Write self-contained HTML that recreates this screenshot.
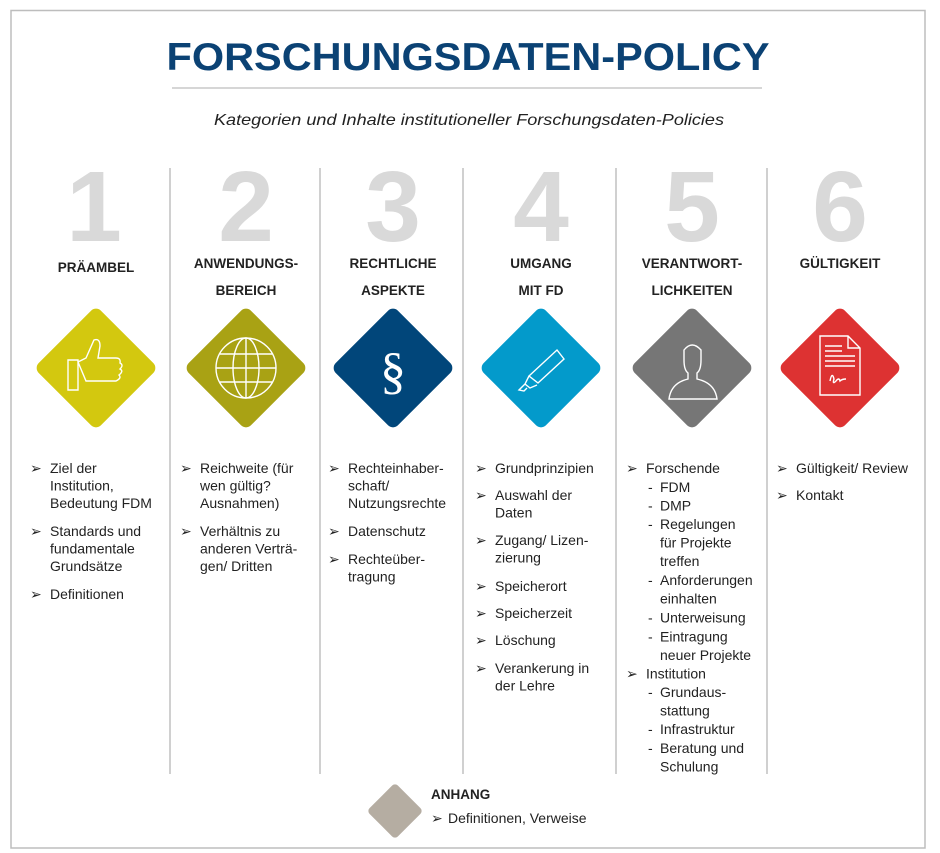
<!DOCTYPE html>
<html><head><meta charset="utf-8">
<style>
html,body{margin:0;padding:0;background:#fff;}
svg{display:block;font-family:"Liberation Sans",Arial,sans-serif;}
text{font-family:"Liberation Sans",Arial,sans-serif;}
.num{font-size:100px;font-weight:bold;fill:#d9d9d9;text-anchor:middle;}
.hd{font-size:13.5px;font-weight:bold;fill:#222;text-anchor:middle;}
.it{font-size:14px;fill:#222;}
.ar{font-size:14px;fill:#222;}
</style></head>
<body>
<svg width="940" height="853" viewBox="0 0 940 853">
<rect x="11" y="10.5" width="914" height="837.5" fill="#fff" stroke="#bdbdbd" stroke-width="1.5"/>
<text x="468" y="70" text-anchor="middle" font-size="39" font-weight="bold" fill="#0b4274" textLength="603" lengthAdjust="spacingAndGlyphs">FORSCHUNGSDATEN-POLICY</text>
<line x1="172" y1="88" x2="762" y2="88" stroke="#c8c8c8" stroke-width="1.5"/>
<text x="469" y="125" text-anchor="middle" font-size="16" font-style="italic" fill="#222" textLength="510" lengthAdjust="spacingAndGlyphs">Kategorien und Inhalte institutioneller Forschungsdaten-Policies</text>

<g stroke="#b0b0b0" stroke-width="1.2">
<line x1="170" y1="168" x2="170" y2="774"/><line x1="320" y1="168" x2="320" y2="774"/>
<line x1="463" y1="168" x2="463" y2="774"/><line x1="616" y1="168" x2="616" y2="774"/>
<line x1="767" y1="168" x2="767" y2="774"/>
</g>

<g>
<text class="num" x="94" y="241">1</text><text class="num" x="246" y="241">2</text>
<text class="num" x="393" y="241">3</text><text class="num" x="541" y="241">4</text>
<text class="num" x="692" y="241">5</text><text class="num" x="840" y="241">6</text>
</g>

<g>
<text class="hd" x="96" y="272">PRÄAMBEL</text>
<text class="hd" x="246" y="268">ANWENDUNGS-</text><text class="hd" x="246" y="295">BEREICH</text>
<text class="hd" x="393" y="268">RECHTLICHE</text><text class="hd" x="393" y="295">ASPEKTE</text>
<text class="hd" x="541" y="268">UMGANG</text><text class="hd" x="541" y="295">MIT FD</text>
<text class="hd" x="692" y="268">VERANTWORT-</text><text class="hd" x="692" y="295">LICHKEITEN</text>
<text class="hd" x="840" y="268">GÜLTIGKEIT</text>
</g>

<g transform="translate(96,368)">
<rect x="-44" y="-44" width="88" height="88" rx="7" transform="rotate(45)" fill="#d3c80f"/>
<path d="M-28,-8 h10 v30 h-10 z M-18,-6 l8,-4 l8,-18 q6,-2 6,6 l-2,12 h18 q5,0 4,5 q4,2 0,6 q4,2 -1,6 q3,3 -3,6 h-30 z" fill="none" stroke="#fff" stroke-width="1.4"/>
</g>
<g transform="translate(246,368)">
<rect x="-44" y="-44" width="88" height="88" rx="7" transform="rotate(45)" fill="#a9a214"/>
<g fill="none" stroke="#fff" stroke-width="1.4"><circle r="30"/><ellipse rx="13" ry="30"/><line x1="0" y1="-30" x2="0" y2="30"/><line x1="-30" y1="0" x2="30" y2="0"/><line x1="-26" y1="-14" x2="26" y2="-14"/><line x1="-26" y1="14" x2="26" y2="14"/></g>
</g>
<g transform="translate(393,368)">
<rect x="-44" y="-44" width="88" height="88" rx="7" transform="rotate(45)" fill="#01467a"/>
<text x="0" y="20" text-anchor="middle" font-size="52" fill="#fff" style="font-family:'Liberation Serif',serif">§</text>
</g>
<g transform="translate(541,368)">
<rect x="-44" y="-44" width="88" height="88" rx="7" transform="rotate(45)" fill="#039acb"/>
<path d="M-12,8 l28,-26 l7,9 l-26,24 z M-12,8 l-4,8 l5,4 l7,-3 M-16,16 l-6,6 l5,1 l3,-3" fill="none" stroke="#fff" stroke-width="1.4"/>
</g>
<g transform="translate(692,368)">
<rect x="-44" y="-44" width="88" height="88" rx="7" transform="rotate(45)" fill="#767676"/>
<path d="M-8,-18 q8,-10 17,0 v10 q0,10 -4,13 v6 q18,4 20,20 h-48 q2,-16 19,-20 v-6 q-4,-3 -4,-13 z" fill="none" stroke="#fff" stroke-width="1.4"/>
</g>
<g transform="translate(840,368)">
<rect x="-44" y="-44" width="88" height="88" rx="7" transform="rotate(45)" fill="#dd3232"/>
<g fill="none" stroke="#fff" stroke-width="1.4"><path d="M-20,-32 h28 l12,12 v47 h-40 z M8,-32 v12 h12"/>
<line x1="-15" y1="-22" x2="2" y2="-22"/><line x1="-15" y1="-17" x2="2" y2="-17"/><line x1="-15" y1="-12" x2="15" y2="-12"/><line x1="-15" y1="-7" x2="15" y2="-7"/><line x1="-15" y1="-2" x2="15" y2="-2"/>
<path d="M-10,13 q2,-10 4,-2 q-2,6 2,2 q3,-4 4,0 q2,-2 6,-2"/></g>
</g>

<g>
<text class="ar" x="30" y="473">➢</text>
<text class="it" x="50" y="473">Ziel der</text><text class="it" x="50" y="490.5">Institution,</text><text class="it" x="50" y="508">Bedeutung FDM</text>
<text class="ar" x="30" y="536">➢</text>
<text class="it" x="50" y="536">Standards und</text><text class="it" x="50" y="553.5">fundamentale</text><text class="it" x="50" y="571">Grundsätze</text>
<text class="ar" x="30" y="599">➢</text><text class="it" x="50" y="599">Definitionen</text>
</g>
<g>
<text class="ar" x="180" y="473">➢</text>
<text class="it" x="200" y="473">Reichweite (für</text><text class="it" x="200" y="490.5">wen gültig?</text><text class="it" x="200" y="508">Ausnahmen)</text>
<text class="ar" x="180" y="536">➢</text>
<text class="it" x="200" y="536">Verhältnis zu</text><text class="it" x="200" y="553.5">anderen Verträ-</text><text class="it" x="200" y="571">gen/ Dritten</text>
</g>
<g>
<text class="ar" x="328" y="473">➢</text>
<text class="it" x="348" y="473">Rechteinhaber-</text><text class="it" x="348" y="490.5">schaft/</text><text class="it" x="348" y="508">Nutzungsrechte</text>
<text class="ar" x="328" y="536">➢</text><text class="it" x="348" y="536">Datenschutz</text>
<text class="ar" x="328" y="564">➢</text>
<text class="it" x="348" y="564">Rechteüber-</text><text class="it" x="348" y="581.5">tragung</text>
</g>
<g>
<text class="ar" x="475" y="473">➢</text><text class="it" x="495" y="473">Grundprinzipien</text>
<text class="ar" x="475" y="500">➢</text><text class="it" x="495" y="500">Auswahl der</text><text class="it" x="495" y="517.5">Daten</text>
<text class="ar" x="475" y="545">➢</text><text class="it" x="495" y="545">Zugang/ Lizen-</text><text class="it" x="495" y="562.5">zierung</text>
<text class="ar" x="475" y="591">➢</text><text class="it" x="495" y="591">Speicherort</text>
<text class="ar" x="475" y="618">➢</text><text class="it" x="495" y="618">Speicherzeit</text>
<text class="ar" x="475" y="645">➢</text><text class="it" x="495" y="645">Löschung</text>
<text class="ar" x="475" y="673">➢</text><text class="it" x="495" y="673">Verankerung in</text><text class="it" x="495" y="690.5">der Lehre</text>
</g>
<g>
<text class="ar" x="626" y="473">➢</text><text class="it" x="646" y="473">Forschende</text>
<text class="it" x="648" y="492">-</text><text class="it" x="660" y="492">FDM</text>
<text class="it" x="648" y="510.5">-</text><text class="it" x="660" y="510.5">DMP</text>
<text class="it" x="648" y="529">-</text><text class="it" x="660" y="529">Regelungen</text><text class="it" x="660" y="547.5">für Projekte</text><text class="it" x="660" y="566">treffen</text>
<text class="it" x="648" y="585">-</text><text class="it" x="660" y="585">Anforderungen</text><text class="it" x="660" y="603.5">einhalten</text>
<text class="it" x="648" y="622.5">-</text><text class="it" x="660" y="622.5">Unterweisung</text>
<text class="it" x="648" y="641.5">-</text><text class="it" x="660" y="641.5">Eintragung</text><text class="it" x="660" y="660">neuer Projekte</text>
<text class="ar" x="626" y="678.5">➢</text><text class="it" x="646" y="678.5">Institution</text>
<text class="it" x="648" y="697">-</text><text class="it" x="660" y="697">Grundaus-</text><text class="it" x="660" y="715.5">stattung</text>
<text class="it" x="648" y="734">-</text><text class="it" x="660" y="734">Infrastruktur</text>
<text class="it" x="648" y="753">-</text><text class="it" x="660" y="753">Beratung und</text><text class="it" x="660" y="771.5">Schulung</text>
</g>
<g>
<text class="ar" x="776" y="473">➢</text><text class="it" x="796" y="473">Gültigkeit/ Review</text>
<text class="ar" x="776" y="500">➢</text><text class="it" x="796" y="500">Kontakt</text>
</g>

<g>
<rect x="-20" y="-20" width="40" height="40" rx="4" transform="translate(395,811) rotate(45)" fill="#b5ada2"/>
<text x="431" y="799" font-size="13.5" font-weight="bold" fill="#222">ANHANG</text>
<text class="ar" x="431" y="823">➢</text><text class="it" x="448" y="823">Definitionen, Verweise</text>
</g>
</svg>
</body></html>
